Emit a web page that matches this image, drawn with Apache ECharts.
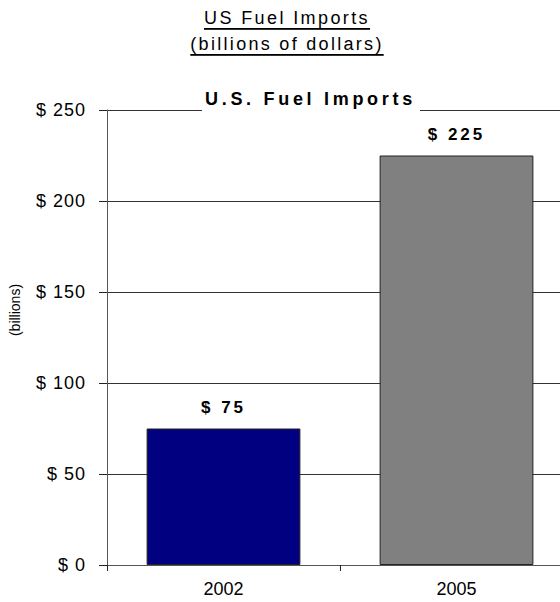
<!DOCTYPE html>
<html>
<head>
<meta charset="utf-8">
<title>US Fuel Imports</title>
<script src="https://cdn.jsdelivr.net/npm/echarts@6/dist/echarts.min.js"></script>
<style>
  html, body { margin: 0; padding: 0; background: #fff; }
  #chart { width: 560px; height: 602px; }
</style>
</head>
<body>
<div id="chart"></div>
<script>
// Annual value of US fuel imports, billions of dollars
const categories = ['2002', '2005'];
const importValues = [75, 225];
const barColors = ['#000080', '#808080'];

const headingText = 'US Fuel Imports';
const headingSubText = '(billions of dollars)';
const chartTitle = 'U.S. Fuel Imports';
const axisUnit = '(billions)';

const yMin = 0;
const yMax = 250;
const yStep = 50;

const money = v => '$ ' + v;
const FONT = "'Liberation Sans', Arial, sans-serif";

const chart = echarts.init(document.getElementById('chart'), null, { renderer: 'svg' });

chart.setOption({
  animation: false,
  backgroundColor: '#fff',
  title: [
    {
      text: headingText,
      subtext: headingSubText,
      left: 287,
      top: 9,
      textAlign: 'center',
      itemGap: 8,
      padding: 0,
      textStyle: { fontFamily: FONT, fontSize: 18, fontWeight: 'normal', color: '#000' },
      subtextStyle: { fontFamily: FONT, fontSize: 18, fontWeight: 'normal', color: '#000' }
    },
    {
      text: chartTitle,
      left: 202,
      top: 86,
      padding: [4, 67, 6, 3],
      backgroundColor: '#fff',
      textStyle: { fontFamily: FONT, fontSize: 18, fontWeight: 'bold', color: '#000' }
    }
  ],
  graphic: [
    {
      type: 'text',
      x: 15,
      y: 310,
      rotation: Math.PI / 2,
      style: {
        text: axisUnit,
        font: '14px ' + FONT,
        fill: '#000',
        align: 'center',
        verticalAlign: 'middle'
      }
    }
  ],
  // the plot area runs a little past the right edge of the page
  grid: {
    left: 107, width: 466, top: 110, bottom: 37,
    containLabel: false,
    outerBoundsMode: 'none'
  },
  xAxis: {
    type: 'category',
    data: categories,
    axisLine: { show: true, lineStyle: { color: '#555', width: 1 } },
    axisTick: { show: true, alignWithLabel: false, length: 6, lineStyle: { color: '#222' } },
    axisLabel: { fontFamily: FONT, fontSize: 18, color: '#000', margin: 15 },
    splitLine: { show: false }
  },
  yAxis: {
    type: 'value',
    min: yMin,
    max: yMax,
    interval: yStep,
    axisLine: { show: true, lineStyle: { color: '#555', width: 1 } },
    axisTick: { show: true, length: 8, lineStyle: { color: '#222' } },
    axisLabel: { fontFamily: FONT, fontSize: 18, color: '#000', margin: 21, formatter: money },
    splitLine: { show: true, lineStyle: { color: '#333', width: 1 } }
  },
  series: [
    {
      type: 'bar',
      barWidth: '66%',
      data: importValues.map((v, i) => ({
        value: v,
        itemStyle: { color: barColors[i] }
      })),
      itemStyle: { borderColor: '#222', borderWidth: 1 },
      label: {
        show: true,
        position: 'top',
        distance: 13,
        fontFamily: FONT,
        fontSize: 17,
        fontWeight: 'bold',
        color: '#000',
        formatter: p => money(p.value)
      }
    }
  ]
});

// ECharts has no letter-spacing or underline option, so the wide tracking
// and underlined heading are applied to the rendered SVG text nodes.
const tracking = {};
tracking[headingText] = { spacing: 2.4, underline: true };
tracking[headingSubText] = { spacing: 2.3, underline: true };
tracking[chartTitle] = { spacing: 3.7 };
importValues.forEach(v => { tracking[money(v)] = { spacing: 3 }; });
for (let v = yMin; v <= yMax; v += yStep) {
  if (!tracking[money(v)]) tracking[money(v)] = { spacing: 1 };
}

function applyTracking() {
  document.querySelectorAll('#chart text').forEach(el => {
    const t = tracking[el.textContent];
    if (!t) return;
    el.style.letterSpacing = t.spacing + 'px';
    if (t.underline) el.style.textDecoration = 'underline';
  });
}
chart.on('finished', applyTracking);
applyTracking();
</script>
</body>
</html>
